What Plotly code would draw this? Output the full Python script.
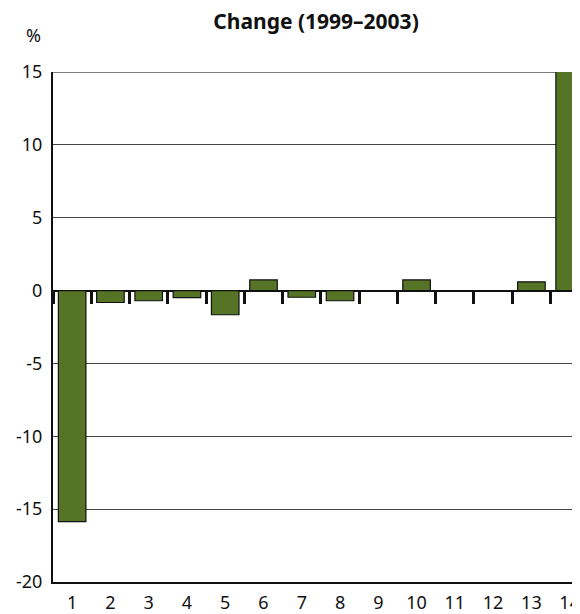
import plotly.graph_objects as go

categories = [str(i) for i in range(1, 15)]
values = [-15.85, -0.82, -0.7, -0.48, -1.66, 0.73, -0.46, -0.7, 0.0, 0.73, 0.0, 0.0, 0.6, 15.4]
y_ticks = [-20, -15, -10, -5, 0, 5, 10, 15]
y_tick_labels = [str(v) for v in y_ticks]
title_text = "Change (1999–2003)"
unit_text = "%"

FONT = "Noto Sans"
BAR_COLOR = "#567425"

fig = go.Figure()
fig.add_trace(go.Bar(
    x=categories, y=values,
    marker=dict(color=BAR_COLOR, line=dict(color="#111", width=1.2)),
    width=0.72, showlegend=False, hoverinfo="x+y",
))
# helper trace to carry the category ticks drawn along the zero line
fig.add_trace(go.Scatter(
    x=categories, y=[0] * len(categories), xaxis="x2", mode="markers",
    marker=dict(opacity=0), showlegend=False, hoverinfo="skip",
))

y_min, y_max = min(y_ticks), max(y_ticks)
zero_pos = (0 - y_min) / (y_max - y_min)

fig.update_layout(
    width=572, height=606,
    margin=dict(l=45, r=0, t=64, b=30),
    paper_bgcolor="white", plot_bgcolor="white",
    font=dict(family=FONT, size=18, color="#111"),
    title=dict(text=f"<b>{title_text}</b>", x=0.5385, xanchor="center",
               y=0.977, yanchor="middle", font=dict(family=FONT, size=21, color="#111")),
    xaxis=dict(
        type="category", categoryorder="array", categoryarray=categories,
        range=[-0.5, 13.27], showgrid=False, zeroline=False,
        showline=True, linecolor="#111", linewidth=2,
        ticks="", ticklabelstandoff=3, tickfont=dict(size=18),
    ),
    xaxis2=dict(
        type="category", categoryorder="array", categoryarray=categories,
        overlaying="x", matches="x", anchor="free", position=zero_pos, side="bottom",
        showgrid=False, zeroline=False, showline=False,
        ticks="outside", tickson="boundaries", ticklen=12, tickwidth=2.5, tickcolor="#111",
        showticklabels=False,
    ),
    yaxis=dict(
        range=[y_min, y_max], tickvals=y_ticks, ticktext=y_tick_labels,
        showgrid=True, gridcolor="#444", gridwidth=1,
        zeroline=True, zerolinecolor="#111", zerolinewidth=2,
        showline=True, linecolor="#111", linewidth=2,
        ticks="", ticklabelstandoff=5, tickfont=dict(size=18),
    ),
    shapes=[dict(
        type="line", xref="paper", x0=0, x1=1, yref="y", y0=y_max, y1=y_max,
        line=dict(color="#555", width=1.5), layer="below",
    )],
    annotations=[dict(
        text=unit_text, xref="paper", yref="paper", x=-0.019, y=1.072,
        xanchor="right", yanchor="middle", showarrow=False, font=dict(size=18),
    )],
    bargap=0.28,
)

fig.write_html("out.html")
